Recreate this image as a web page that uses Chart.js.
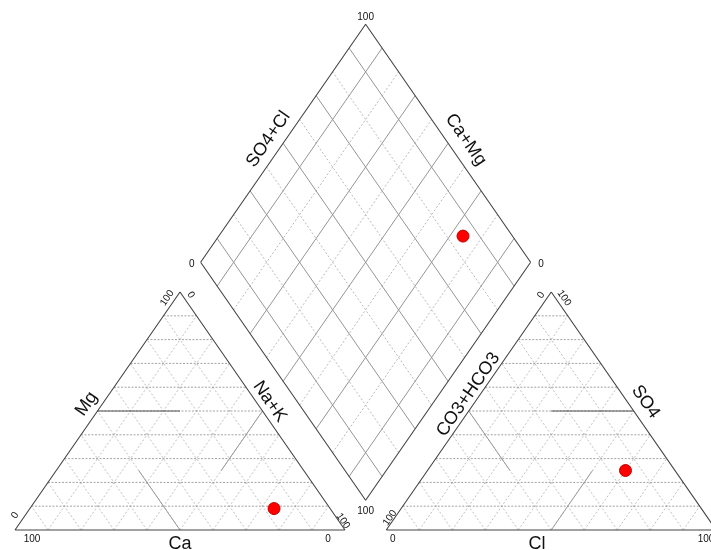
<!DOCTYPE html>
<html lang="en">
<head>
  <meta charset="UTF-8" />
  <title>Piper diagram</title>
  <script src="https://cdn.jsdelivr.net/npm/chart.js"></script>
  <style>
    html, body { margin: 0; padding: 0; background: #fff; }
    #piper { display: block; }
  </style>
</head>
<body>
  <canvas id="piper" width="711" height="550"></canvas>
  <script>
    // sample composition (percent of meq/l)
    const cationCa = [17];
    const cationMg = [9];
    const cationNaK = [74];
    const anionHCO3 = [15];
    const anionSO4 = [25];
    const anionCl = [60];

    // grid ticks (percent)
    const gridTicks = [10, 20, 30, 40, 50, 60, 70, 80, 90];
    const diamondSolid = [10, 30, 50, 70, 90];

    // geometry (triangle side = 100 units)
    const H = Math.sqrt(3) / 2;
    const GAP = 12.5;
    const OX = 100 + GAP; // x offset of anion triangle

    function cationXY(ca, mg, na) {
      const s = ca + mg + na;
      return { x: 100 * (na + mg / 2) / s, y: 100 * H * mg / s };
    }
    function anionXY(hco3, so4, cl) {
      const s = hco3 + so4 + cl;
      return { x: OX + 100 * (cl + so4 / 2) / s, y: 100 * H * so4 / s };
    }
    function diamondXY(p, q) {
      const t = (2 * (q.x - p.x) + (q.y - p.y) / H) / 2;
      return { x: p.x + 0.5 * t, y: p.y + H * t };
    }
    const lerp = (a, b, f) => ({ x: a.x + (b.x - a.x) * f, y: a.y + (b.y - a.y) * f });

    function segs(list) {
      const out = [];
      list.forEach(([a, b]) => { out.push(a, b, { x: null, y: null }); });
      return out;
    }

    // triangle vertices
    const cL = { x: 0, y: 0 }, cR = { x: 100, y: 0 }, cT = { x: 50, y: 100 * H };
    const aL = { x: OX, y: 0 }, aR = { x: OX + 100, y: 0 }, aT = { x: OX + 50, y: 100 * H };
    const dB = { x: 100 + GAP / 2, y: GAP * H };
    const dL = { x: 50 + GAP / 2, y: 100 * H + GAP * H };
    const dR = { x: 150 + GAP / 2, y: 100 * H + GAP * H };
    const dT = { x: 100 + GAP / 2, y: 200 * H + GAP * H };

    function triGrid(L, R, T) {
      const hor = [], diag = [];
      gridTicks.forEach(k => {
        const f = k / 100;
        hor.push([lerp(L, T, f), lerp(R, T, f)]);
        diag.push([lerp(L, R, f), lerp(R, T, 1 - f)]);
        diag.push([lerp(L, R, f), lerp(L, T, f)]);
      });
      return { hor, diag };
    }
    const cg = triGrid(cL, cR, cT);
    const ag = triGrid(aL, aR, aT);

    const dSolid = [], dDot = [];
    gridTicks.forEach(k => {
      const f = k / 100;
      const a = [lerp(dB, dR, f), lerp(dL, dT, f)];
      const b = [lerp(dB, dL, f), lerp(dR, dT, f)];
      const target = diamondSolid.includes(k) ? dSolid : dDot;
      target.push(a, b);
    });

    // facies boundaries inside the triangles
    const cm = { l: lerp(cL, cT, 0.5), r: lerp(cR, cT, 0.5), b: lerp(cL, cR, 0.5) };
    const am = { l: lerp(aL, aT, 0.5), r: lerp(aR, aT, 0.5), b: lerp(aL, aR, 0.5) };
    const faciesDark = [
      [cm.l, lerp(cm.l, cm.r, 0.5)],
      [lerp(am.l, am.r, 0.5), am.r]
    ];
    const faciesGray = [
      [cm.r, lerp(cm.r, cm.b, 0.5)],
      [cm.b, lerp(cm.b, cm.l, 0.5)],
      [am.l, lerp(am.l, am.b, 0.5)],
      [am.b, lerp(am.b, am.r, 0.5)]
    ];

    const outlines = [
      [cL, cR], [cR, cT], [cT, cL],
      [aL, aR], [aR, aT], [aT, aL],
      [dB, dR], [dR, dT], [dT, dL], [dL, dB]
    ];

    const catPts = cationCa.map((v, i) => cationXY(v, cationMg[i], cationNaK[i]));
    const anPts = anionHCO3.map((v, i) => anionXY(v, anionSO4[i], anionCl[i]));
    const diaPts = catPts.map((p, i) => diamondXY(p, anPts[i]));

    function lineSet(list, color, width, dash) {
      return {
        data: segs(list), showLine: true, spanGaps: false, pointRadius: 0,
        borderColor: color, borderWidth: width, borderDash: dash || [], tension: 0, fill: false
      };
    }

    // labels: [text, x, y, rotation(-1 up, 0, 1 down), size]
    const labels = [
      ['100', 106.25, 186.5, 0, 10], ['0', 53.6, 96.8, 0, 10], ['0', 159.4, 96.8, 0, 10],
      ['100', 106.25, 6.9, 0, 10],
      ['SO4+Cl', 76.8, 142.2, -1, 18], ['Ca+Mg', 136.6, 142.0, 1, 18],
      ['100', 5.15, -3.3, 0, 10], ['0', 94.85, -3.3, 0, 10],
      ['0', 0, 5.3, -1, 10], ['100', 46.1, 84.4, -1, 10],
      ['0', 53.3, 85.5, 1, 10], ['100', 99.4, 3.3, 1, 10],
      ['Mg', 21.7, 45.9, -1, 18], ['Na+K', 77.2, 46.7, 1, 18],
      ['Ca', 50, -5.0, 0, 18],
      ['0', 159.4, 85.5, -1, 10], ['100', 166.4, 84.4, 1, 10],
      ['100', 113.6, 4.4, -1, 10],
      ['0', 114.5, -3.3, 0, 10], ['100', 209.4, -3.3, 0, 10],
      ['CO3+HCO3', 137.4, 49.3, -1, 18], ['SO4', 191.1, 46.6, 1, 18],
      ['Cl', 158.2, -5.0, 0, 18]
    ];

    const labelPlugin = {
      id: 'piperLabels',
      afterDatasetsDraw(chart) {
        const { ctx, scales: { x, y } } = chart;
        const ang = Math.atan2(y.getPixelForValue(cT.y) - y.getPixelForValue(0),
                               x.getPixelForValue(cT.x) - x.getPixelForValue(0));
        ctx.save();
        ctx.fillStyle = '#111';
        ctx.textAlign = 'center';
        ctx.textBaseline = 'middle';
        labels.forEach(([t, lx, ly, rot, size]) => {
          ctx.save();
          ctx.translate(x.getPixelForValue(lx), y.getPixelForValue(ly));
          if (rot) ctx.rotate(rot < 0 ? ang : -ang);
          ctx.font = size + 'px "Liberation Sans", Arial, sans-serif';
          ctx.fillText(t, 0, 0);
          ctx.restore();
        });
        ctx.restore();
      }
    };

    const pointStyle = {
      showLine: false, pointRadius: 6, pointBackgroundColor: '#ff0000',
      pointBorderColor: '#c00000', pointBorderWidth: 1
    };

    new Chart(document.getElementById('piper'), {
      type: 'scatter',
      data: {
        datasets: [
          Object.assign({ data: catPts }, pointStyle),
          Object.assign({ data: anPts }, pointStyle),
          Object.assign({ data: diaPts }, pointStyle),
          lineSet(outlines, '#444', 1.1),
          lineSet(faciesDark, '#555', 1),
          lineSet(faciesGray, '#999', 1),
          lineSet(dSolid, '#959595', 1),
          lineSet(dDot, '#a8a8a8', 0.8, [2, 2]),
          lineSet(cg.hor.concat(ag.hor), '#8a8a8a', 0.8, [2, 1.5]),
          lineSet(cg.diag.concat(ag.diag), '#b0b0b0', 0.8, [2, 2])
        ]
      },
      options: {
        responsive: false,
        animation: false,
        events: [],
        layout: { padding: 0, autoPadding: false },
        plugins: { legend: { display: false }, tooltip: { enabled: false } },
        scales: {
          x: { type: 'linear', min: -4.545, max: 210.91, display: false },
          y: { type: 'linear', min: -7.278, max: 192.87, display: false }
        }
      },
      plugins: [labelPlugin]
    });
  </script>
</body>
</html>
